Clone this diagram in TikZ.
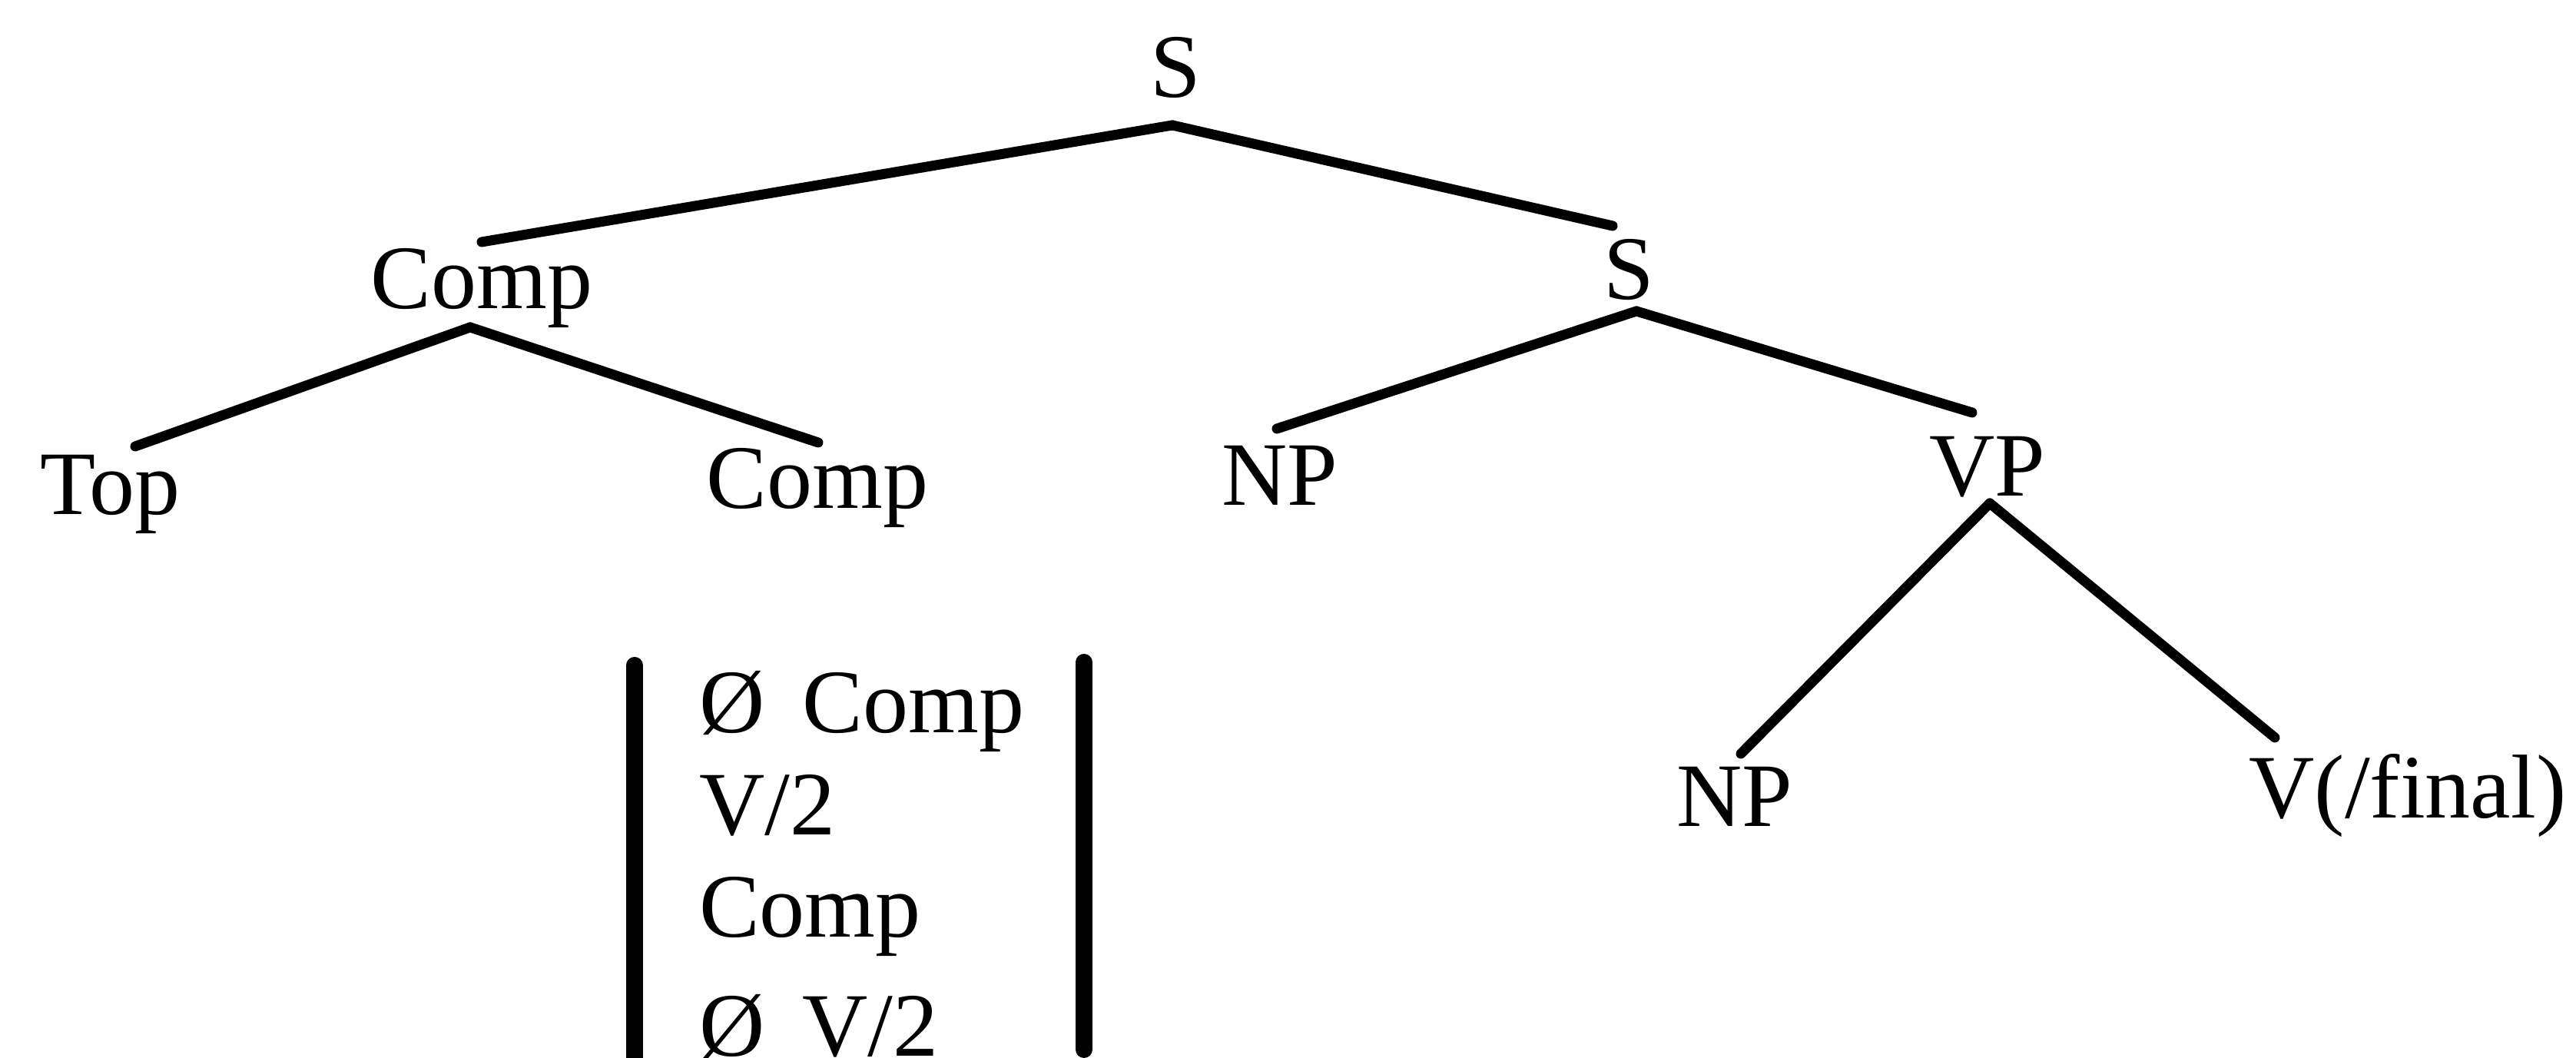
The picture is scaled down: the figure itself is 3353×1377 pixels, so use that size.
\documentclass[tikz,border=0pt]{standalone}
\usepackage{fontspec}
\setmainfont{Liberation Serif}

\begin{document}
\begin{tikzpicture}[x=0.1pt, y=-0.1pt,
    every node/.style={font=\fontsize{11.8}{14}\selectfont, inner sep=0pt, anchor=base},
    branch/.style={line width=1.3pt, line cap=round},
    bar/.style={line width=2.2pt, line cap=round}]
  \useasboundingbox (0,0) rectangle (3353,1377);
  \clip (0,0) rectangle (3353,1377);
  % category labels
  \node (S0)  at (1530,127)  {S};
  \node (C1)  at (627,402)   {Comp};
  \node (S1)  at (2120,390)  {S};
  \node (Top) at (143,670)   {Top};
  \node (C2)  at (1064,662)  {Comp};
  \node (NP1) at (1666,658)  {NP};
  \node (VP)  at (2587,646)  {VP};
  \node (NP2) at (2258,1076) {NP};
  \node (Vf)  at (3134,1065) {V(/final)};
  % branches
  \draw[branch] ([shift={(-4,36)}]S0.base) -- ([shift={(0,-87)}]C1.base);
  \draw[branch] ([shift={(-4,36)}]S0.base) -- ([shift={(-21,-96)}]S1.base);
  \draw[branch] ([shift={(-15,24)}]C1.base) -- ([shift={(33,-89)}]Top.base);
  \draw[branch] ([shift={(-15,24)}]C1.base) -- ([shift={(1,-86)}]C2.base);
  \draw[branch] ([shift={(10,15)}]S1.base) -- ([shift={(-4,-100)}]NP1.base);
  \draw[branch] ([shift={(10,15)}]S1.base) -- ([shift={(-20,-109)}]VP.base);
  \draw[branch] ([shift={(3,9)}]VP.base) -- ([shift={(8,-95)}]NP2.base);
  \draw[branch] ([shift={(3,9)}]VP.base) -- ([shift={(-173,-105)}]Vf.base);
  % alternatives between bars
  \draw[bar] (826,866) -- (826,1395);
  \draw[bar] (1411,862) -- (1411,1366);
  \node[anchor=base west] (alt1) at (908,954)  {Ø\hspace{0.42em}Comp};
  \node[anchor=base west] (alt2) at (908,1087) {V/2};
  \node[anchor=base west] (alt3) at (908,1220) {Comp};
  \node[anchor=base west] (alt4) at (908,1375) {Ø\hspace{0.42em}V/2};
\end{tikzpicture}
\end{document}
